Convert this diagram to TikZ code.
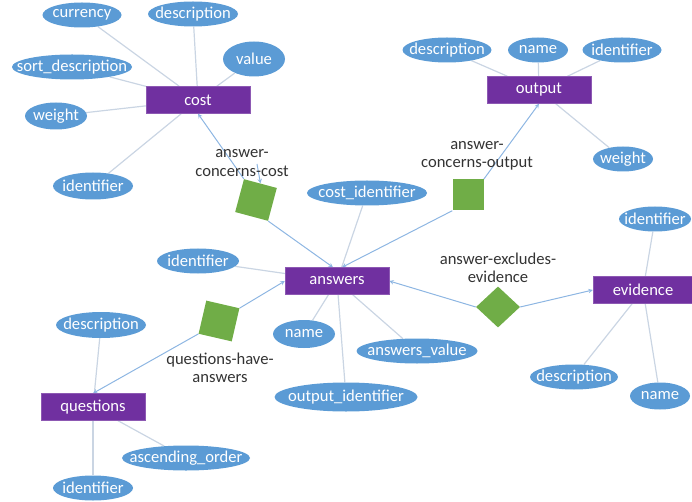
\documentclass[tikz,border=0pt]{standalone}
\usepackage{fontspec}
\setmainfont{Carlito}
\usepackage{tikz}
\usetikzlibrary{arrows}
\usetikzlibrary{backgrounds}
\usetikzlibrary{shapes,positioning}
\colorlet{background}{white}
\definecolor{entColor}{HTML}{7030A0}
\definecolor{attrColor}{HTML}{5B9BD5}
\definecolor{relColor}{HTML}{70AD47}
\definecolor{lineColor}{HTML}{CAD5E3}
\definecolor{arrowColor}{HTML}{8DB6E2}
\definecolor{labelColor}{HTML}{333333}
\tikzset{>=stealth,
  every node/.style={font=\fontsize{16.6}{18.5}\selectfont},
  entity/.style={rectangle,fill=entColor,draw=entColor!80!white,text=white,
    minimum width=104,minimum height=27,inner sep=0pt},
  attr/.style={ellipse,fill=attrColor,text=white,inner sep=0pt,
    minimum height=25,
    execute at begin node={\hbox to 0pt\bgroup\hss},
    execute at end node={\hss\egroup}},
  relbox/.style={rectangle,fill=relColor,inner sep=0pt,minimum size=34},
  reldia/.style={diamond,fill=relColor,inner sep=0pt,minimum width=44,minimum height=41},
  rellabel/.style={text=labelColor,align=center,inner sep=0pt},
  attrline/.style={draw=lineColor,line width=1.2pt},
  relline/.style={draw=arrowColor,line width=1pt,->}}

\begin{document}
\begin{tikzpicture}[x=1pt,y=-1pt]
    \useasboundingbox (0,0) rectangle (692,502);

    \node[entity] (cost) at (198,100) {cost};
    \node[entity] (output) at (539,90) {output};
    \node[entity] (answers) at (337,281) {answers};
    \node[entity] (questions) at (93,407) {questions};
    \node[entity,minimum width=100] (evidence) at (643,290) {evidence};

    \node[attr,minimum width=79] (C1) at (82,15) {currency};
    \node[attr,minimum width=90] (C2) at (193,14) {description};
    \node[attr,minimum width=62,minimum height=35] (C3) at (254,59) {value};
    \node[attr,minimum width=120] (C4) at (72,67) {sort\_description};
    \node[attr,minimum width=62,minimum height=27] (C5) at (56,116) {weight};
    \node[attr,minimum width=80,minimum height=27] (C6) at (93,186) {identifier};

    \node[attr,minimum width=89] (O1) at (447,50) {description};
    \node[attr,minimum width=60] (O2) at (538,50) {name};
    \node[attr,minimum width=79] (O3) at (622,50) {identifier};
    \node[attr,minimum width=60] (O4) at (623,159) {weight};

    \node[attr,minimum width=120] (A1) at (367,193) {cost\_identifier};
    \node[attr,minimum width=82] (A2) at (198,261) {identifier};
    \node[attr,minimum width=62,minimum height=28] (A3) at (304,334) {name};
    \node[attr,minimum width=121] (A4) at (417,351) {answers\_value};
    \node[attr,minimum width=143,minimum height=29] (A5) at (346,397) {output\_identifier};

    \node[attr,minimum width=90,minimum height=26] (Q1) at (101,325) {description};
    \node[attr,minimum width=128] (Q2) at (186,458) {ascending\_order};
    \node[attr,minimum width=80] (Q3) at (93,488) {identifier};

    \node[attr,minimum width=72] (E1) at (655,219) {identifier};
    \node[attr,minimum width=88] (E2) at (574,377) {description};
    \node[attr,minimum width=60,minimum height=27] (E3) at (660,396) {name};

    \node[relbox,rotate=-15] (R1) at (256,200) {};
    \node[relbox,minimum size=31] (R2) at (468,195) {};
    \node[relbox,rotate=-13] (R3) at (219,321) {};
    \node[reldia] (R4) at (498,307) {};

    \node[rellabel] (L1) at (242,163) {answer-\\concerns-cost};
    \node[rellabel] (L2) at (477,156) {answer-\\concerns-output};
    \node[rellabel] (L3) at (220,368) {questions-have-\\answers};
    \node[rellabel] (L4) at (498,268) {answer-excludes-\\evidence};
    \coordinate (T1) at (257,164);

    \begin{scope}[on background layer]
      \foreach \a in {C1,C2,C3,C4,C5,C6} \draw[attrline] (\a) -- (cost);
      \foreach \a in {O1,O2,O3,O4} \draw[attrline] (\a) -- (output);
      \foreach \a in {A1,A2,A3,A4,A5} \draw[attrline] (\a) -- (answers);
      \foreach \a in {Q1,Q2,Q3} \draw[attrline] (\a) -- (questions);
      \foreach \a in {E1,E2,E3} \draw[attrline] (\a) -- (evidence);

      \draw[relline] (R1.north west) -- (cost.south);
      \draw[relline] (R1.south east) -- ([xshift=-4]answers.north);
      \draw[relline] (T1) -- (R1.north);
      \draw[relline] (R2.north east) -- (output.south);
      \draw[relline] (R2.south west) -- ([xshift=5]answers.north);
      \draw[relline] (R3.north east) -- (answers.west);
      \draw[relline] (R3.south west) -- (questions.north);
      \draw[relline] (R4.west) -- (answers.east);
      \draw[relline] (R4.east) -- (evidence.west);
    \end{scope}
\end{tikzpicture}
\end{document}
